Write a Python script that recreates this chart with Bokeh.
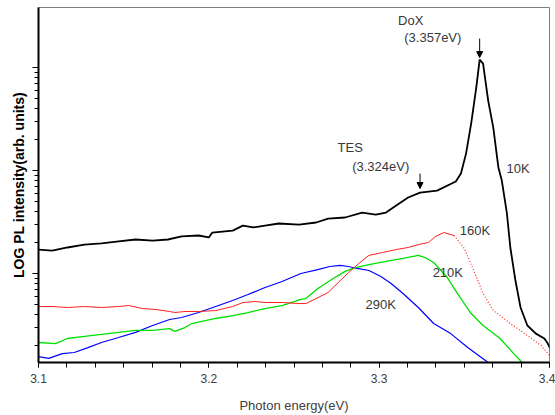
from bokeh.plotting import figure
from bokeh.models import (Range1d, FixedTicker, Label, Arrow, NormalHead,
                          CustomJSTickFormatter)
from bokeh.embed import file_html
from bokeh.resources import INLINE

# ---- data (photon energy in eV, PL intensity in arb. units) ----
energy_10k = [3.100, 3.108, 3.117, 3.127, 3.137, 3.147, 3.157, 3.167, 3.176, 3.184,
              3.194, 3.200, 3.202, 3.214, 3.220, 3.226, 3.233, 3.241, 3.253, 3.263,
              3.270, 3.280, 3.290, 3.298, 3.304, 3.310, 3.317, 3.324, 3.334, 3.345,
              3.348, 3.351, 3.354, 3.357, 3.359, 3.361, 3.364, 3.367, 3.370, 3.372,
              3.375, 3.377, 3.380, 3.383, 3.387, 3.392, 3.397, 3.399, 3.401]
pl_10k = [1.71, 1.67, 1.79, 1.91, 1.96, 2.05, 2.14, 2.09, 2.14, 2.29,
          2.34, 2.24, 2.50, 2.61, 2.92, 2.80, 2.92, 3.06, 2.99, 3.13,
          3.42, 3.50, 3.91, 3.74, 3.91, 4.57, 5.47, 6.11, 6.39, 7.82,
          9.35, 14.6, 28.6, 64.0, 119.6, 109.3, 47.8, 26.1, 10.7, 8.0,
          3.83, 1.79, 0.855, 0.468, 0.313, 0.261, 0.234, 0.209, 0.179]

energy_160k = [3.100, 3.108, 3.117, 3.127, 3.137, 3.147, 3.153, 3.161, 3.169, 3.177,
               3.180, 3.186, 3.194, 3.204, 3.214, 3.220, 3.227, 3.233, 3.243, 3.253,
               3.257, 3.263, 3.270, 3.276, 3.282, 3.288, 3.294, 3.302, 3.310, 3.317,
               3.323, 3.329, 3.333, 3.338, 3.344, 3.350, 3.356, 3.361, 3.367, 3.371,
               3.377, 3.387, 3.395, 3.400]
pl_160k = [0.478, 0.478, 0.468, 0.478, 0.468, 0.478, 0.489, 0.457, 0.447, 0.428,
           0.418, 0.428, 0.428, 0.437, 0.478, 0.523, 0.535, 0.523, 0.523, 0.511,
           0.511, 0.572, 0.654, 0.818, 1.02, 1.25, 1.50, 1.60, 1.71, 1.79,
           1.91, 2.00, 2.29, 2.50, 2.34, 1.75, 1.02, 0.639, 0.437, 0.391,
           0.327, 0.250, 0.200, 0.160]

energy_210k = [3.100, 3.110, 3.117, 3.127, 3.137, 3.147, 3.157, 3.167, 3.177, 3.180,
               3.186, 3.190, 3.204, 3.214, 3.223, 3.233, 3.243, 3.254, 3.257, 3.264,
               3.273, 3.280, 3.286, 3.294, 3.304, 3.314, 3.323, 3.327, 3.332, 3.340,
               3.346, 3.354, 3.361, 3.371, 3.379, 3.384, 3.388]
pl_210k = [0.214, 0.209, 0.234, 0.245, 0.256, 0.268, 0.280, 0.280, 0.292, 0.274,
           0.299, 0.327, 0.366, 0.391, 0.418, 0.457, 0.489, 0.560, 0.572, 0.715,
           0.894, 1.05, 1.14, 1.22, 1.31, 1.40, 1.50, 1.43, 1.28, 0.914,
           0.639, 0.409, 0.313, 0.234, 0.167, 0.137, 0.120]

energy_290k = [3.100, 3.106, 3.114, 3.121, 3.129, 3.137, 3.147, 3.157, 3.167, 3.177,
               3.184, 3.194, 3.204, 3.214, 3.223, 3.233, 3.243, 3.254, 3.264, 3.271,
               3.277, 3.282, 3.287, 3.294, 3.301, 3.307, 3.314, 3.323, 3.332, 3.342,
               3.352, 3.364, 3.368]
pl_290k = [0.156, 0.150, 0.167, 0.171, 0.191, 0.214, 0.239, 0.268, 0.313, 0.358,
           0.374, 0.418, 0.478, 0.547, 0.625, 0.731, 0.836, 1.00, 1.09, 1.17,
           1.20, 1.17, 1.12, 1.07, 0.935, 0.800, 0.639, 0.468, 0.327, 0.261,
           0.191, 0.137, 0.125]

x_ticks = [3.1, 3.2, 3.3, 3.4]
x_tick_labels = ["3.1", "3.2", "3.3", "3.4"]
y_decades = [1, 10, 100]
peak_dox = 3.359
peak_tes = 3.324

FONT = "Liberation Sans"

p = figure(width=555, height=415, output_backend="svg", toolbar_location=None,
           y_axis_type="log", x_range=Range1d(3.1, 3.4), y_range=Range1d(0.1368, 383),
           min_border_left=38, min_border_right=6, min_border_top=7, min_border_bottom=53)
p.background_fill_color = "white"
p.border_fill_color = "white"
p.outline_line_color = "#808080"
p.outline_line_width = 1
p.xgrid.visible = False
p.ygrid.visible = False

# x axis
x_minor = [x_ticks[0] + k * 0.1 / 6 for k in range(19)]
p.xaxis.ticker = FixedTicker(ticks=x_ticks, minor_ticks=x_minor)
p.xaxis.major_label_overrides = {t: s for t, s in zip(x_ticks, x_tick_labels)}
p.xaxis.axis_line_width = 2
p.xaxis.axis_line_color = "black"
p.xaxis.major_tick_in = 0
p.xaxis.major_tick_out = 5
p.xaxis.minor_tick_in = 0
p.xaxis.minor_tick_out = 5
p.xaxis.major_tick_line_color = "black"
p.xaxis.minor_tick_line_color = "black"
p.xaxis.major_label_standoff = 6
p.xaxis.major_label_text_font = FONT
p.xaxis.major_label_text_font_size = "12px"
p.xaxis.major_label_text_color = "#404040"
p.xaxis.axis_label = "Photon energy(eV)"
p.xaxis.axis_label_text_font = FONT
p.xaxis.axis_label_text_font_size = "13px"
p.xaxis.axis_label_text_font_style = "normal"
p.xaxis.axis_label_text_color = "#404040"
p.xaxis.axis_label_standoff = 12

# y axis (log, no tick labels)
y_minor = [m * d / 10 for d in y_decades for m in range(2, 10)]
p.yaxis.ticker = FixedTicker(ticks=y_decades, minor_ticks=y_minor)
p.yaxis.formatter = CustomJSTickFormatter(code="return ''")
p.yaxis.axis_line_width = 2
p.yaxis.axis_line_color = "black"
p.yaxis.major_tick_in = 0
p.yaxis.major_tick_out = 6
p.yaxis.minor_tick_in = 0
p.yaxis.minor_tick_out = 4
p.yaxis.major_tick_line_color = "black"
p.yaxis.minor_tick_line_color = "black"
p.yaxis.major_label_standoff = 0
p.yaxis.axis_label = "LOG PL intensity(arb. units)"
p.yaxis.axis_label_text_font = FONT
p.yaxis.axis_label_text_font_size = "14px"
p.yaxis.axis_label_text_font_style = "bold"
p.yaxis.axis_label_text_color = "black"
p.yaxis.axis_label_standoff = 6

# curves
p.line(energy_290k, pl_290k, line_color="#0000ff", line_width=1.2)
p.line(energy_210k, pl_210k, line_color="#00e000", line_width=1.3)
split = energy_160k.index(3.344)
p.line(energy_160k[:split + 1], pl_160k[:split + 1], line_color="#ff2020", line_width=1)
p.line(energy_160k[split:], pl_160k[split:], line_color="#ff2020", line_width=1.2,
       line_dash="1 2")
p.line(energy_10k, pl_10k, line_color="black", line_width=1.8)

# annotations
def lab(x, y, t):
    p.add_layout(Label(x=x, y=y, text=t, text_align="center", text_baseline="middle",
                       text_font=FONT, text_font_size="13px", text_color="#383838"))

lab(3.3185, 286, "DoX")
lab(3.3315, 195, "(3.357eV)")
lab(3.2830, 16.7, "TES")
lab(3.3009, 10.9, "(3.324eV)")
lab(3.3815, 10.5, "10K")
lab(3.3562, 2.61, "160K")
lab(3.3403, 1.02, "210K")
lab(3.3009, 0.50, "290K")

for x0, y0, y1 in [(peak_dox, 191, 125), (peak_tes, 9.35, 6.69)]:
    p.add_layout(Arrow(end=NormalHead(size=6, line_color="black", fill_color="black"),
                       x_start=x0, y_start=y0, x_end=x0, y_end=y1,
                       line_color="black", line_width=1))

open("out.html", "w").write(file_html(p, INLINE))
